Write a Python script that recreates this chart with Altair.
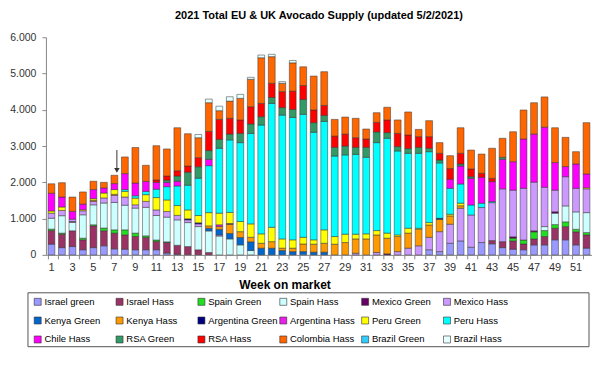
import altair as alt
import pandas as pd

weeks = list(range(1, 53))

series = ["Israel green", "Israel Hass", "Spain Green", "Spain Hass", "Mexico Green", "Mexico Hass",
          "Kenya Green", "Kenya Hass", "Argentina Green", "Argentina Hass", "Peru Green", "Peru Hass",
          "Chile Hass", "RSA Green", "RSA Hass", "Colombia Hass", "Brazil Green", "Brazil Hass"]
colors = ["#9999FF", "#993366", "#22DD22", "#CCFFFF", "#660066", "#CC99FF",
          "#0066CC", "#FF9900", "#000080", "#E81FE8", "#FFFF00", "#00FFFF",
          "#FF00FF", "#339966", "#FF0000", "#FF6600", "#33CCFF", "#E6FFFF"]
y_ticks = [0, 1000, 2000, 3000, 4000, 5000, 6000]

israel_green = [295, 200, 230, 140, 200, 250, 165, 155, 140, 140, 140, 50, 20, 0, 0, 0, 0, 0, 0, 0,
                0, 0, 0, 0, 0, 0, 0, 0, 0, 0, 0, 0, 0, 0, 0, 0, 140, 90, 320, 385,
                210, 340, 305, 200, 155, 140, 275, 275, 415, 415, 275, 185]
israel_hass = [375, 370, 435, 275, 600, 415, 435, 395, 370, 340, 230, 290, 245, 230, 140, 65, 0, 0, 0, 0,
               0, 0, 0, 0, 0, 0, 0, 0, 0, 0, 0, 0, 0, 0, 0, 0, 0, 0, 0, 0,
               0, 0, 90, 165, 230, 160, 165, 230, 320, 365, 360, 365]
spain_green = [40, 30, 0, 45, 30, 75, 90, 140, 90, 45, 40, 20, 0, 0, 0, 0, 0, 0, 0, 0,
               0, 0, 0, 0, 0, 0, 0, 0, 0, 0, 0, 0, 0, 0, 0, 0, 0, 0, 0, 0,
               0, 0, 0, 0, 75, 110, 195, 165, 100, 130, 70, 65]
spain_hass = [300, 480, 235, 645, 550, 690, 755, 680, 690, 785, 675, 680, 700, 660, 640, 595, 520, 440, 275, 120,
              0, 0, 0, 0, 0, 0, 0, 0, 0, 0, 0, 0, 0, 0, 0, 0, 0, 0, 0, 0,
              0, 0, 0, 0, 0, 0, 0, 110, 315, 440, 480, 550]
mexico_green = [0, 0, 20, 0, 0, 0, 0, 0, 0, 0, 0, 0, 0, 0, 0, 0, 0, 0, 0, 0,
                0, 0, 0, 0, 0, 0, 0, 0, 0, 0, 0, 0, 30, 0, 0, 0, 0, 0, 0, 0,
                0, 0, 0, 0, 40, 0, 30, 0, 40, 0, 0, 0]
mexico_hass = [140, 145, 65, 110, 95, 140, 195, 225, 90, 165, 155, 155, 125, 75, 75, 0, 30, 0, 0, 0,
               0, 0, 0, 0, 0, 0, 0, 0, 0, 45, 0, 65, 0, 90, 185, 250, 345, 550, 525, 900,
               890, 965, 1045, 1455, 1285, 1425, 1340, 1085, 595, 805, 650, 655]
kenya_green = [0, 0, 0, 0, 0, 0, 0, 0, 0, 0, 0, 0, 0, 0, 0, 75, 155, 150, 205, 240,
               185, 185, 120, 90, 90, 75, 75, 0, 0, 0, 0, 0, 0, 0, 0, 0, 0, 0, 0, 0,
               0, 0, 0, 0, 0, 0, 0, 0, 0, 0, 0, 0]
kenya_hass = [0, 0, 0, 0, 30, 0, 30, 0, 0, 0, 0, 0, 0, 0, 0, 65, 75, 255, 160, 125,
              135, 180, 65, 95, 210, 220, 245, 295, 340, 395, 440, 485, 430, 415, 415, 455, 340, 340, 230, 70,
              0, 0, 0, 0, 0, 0, 0, 0, 0, 0, 0, 0]
argentina_green = [0, 0, 0, 0, 0, 0, 0, 0, 0, 0, 0, 0, 0, 30, 30, 0, 0, 20, 0, 0,
                   0, 0, 0, 0, 0, 0, 0, 0, 0, 0, 0, 0, 0, 0, 0, 0, 0, 30, 0, 0,
                   0, 0, 0, 0, 0, 0, 0, 0, 0, 0, 0, 0]
argentina_hass = [0, 0, 0, 0, 0, 0, 0, 0, 0, 0, 0, 0, 0, 0, 0, 0, 50, 0, 0, 0,
                  0, 0, 0, 0, 0, 0, 0, 0, 0, 0, 0, 0, 0, 0, 0, 0, 0, 0, 0, 0,
                  0, 0, 0, 0, 0, 0, 0, 0, 0, 0, 0, 0]
peru_green = [60, 95, 0, 30, 45, 135, 130, 155, 185, 185, 340, 320, 270, 245, 200, 365, 320, 305, 280, 370,
              260, 395, 255, 230, 185, 120, 370, 210, 230, 130, 140, 120, 140, 45, 135, 30, 65, 0, 45, 70,
              0, 0, 0, 0, 0, 0, 0, 0, 0, 0, 0, 30]
peru_hass = [0, 0, 0, 0, 0, 0, 0, 50, 65, 90, 230, 365, 540, 680, 1030, 1295, 1790, 2000, 2175, 2495,
             3000, 3415, 3415, 3375, 3390, 2965, 2990, 2220, 2185, 2200, 2110, 2425, 2615, 2315, 2065, 2065, 1955, 1525, 715, 530,
             275, 120, 30, 0, 0, 0, 0, 0, 0, 0, 0, 0]
chile_hass = [490, 275, 215, 155, 250, 140, 165, 440, 350, 275, 190, 120, 130, 0, 0, 175, 0, 0, 0, 0,
              0, 0, 0, 0, 0, 0, 0, 0, 0, 0, 0, 0, 0, 0, 0, 0, 0, 0, 250, 495,
              735, 715, 550, 815, 785, 1360, 1325, 1655, 760, 280, 670, 380]
rsa_green = [0, 0, 0, 0, 0, 0, 0, 0, 0, 0, 0, 60, 145, 360, 315, 240, 245, 160, 255, 260,
             230, 165, 205, 220, 410, 265, 165, 240, 245, 195, 275, 295, 155, 120, 130, 165, 95, 80, 0, 55,
             45, 0, 0, 55, 0, 0, 0, 0, 0, 0, 0, 0]
rsa_hass = [0, 0, 0, 0, 0, 0, 0, 0, 0, 0, 65, 115, 145, 170, 250, 530, 550, 435, 370, 475,
            365, 390, 440, 505, 385, 350, 275, 310, 330, 265, 230, 265, 350, 365, 375, 295, 320, 185, 295, 295,
            215, 110, 90, 0, 0, 0, 0, 0, 0, 0, 0, 0]
colombia_hass = [260, 395, 395, 335, 230, 155, 230, 460, 980, 445, 945, 745, 1185, 890, 550, 790, 240, 475, 595, 755,
                 1260, 735, 230, 780, 515, 935, 930, 460, 470, 535, 275, 265, 350, 370, 635, 200, 440, 295, 355, 705,
                 520, 530, 830, 525, 825, 800, 865, 835, 960, 805, 340, 1415]
brazil_green = [0] * 52
brazil_hass = [0, 0, 0, 0, 0, 0, 0, 0, 0, 0, 0, 0, 0, 0, 90, 100, 125, 120, 110, 55,
               75, 65, 45, 65, 0, 0, 0, 0, 0, 0, 0, 0, 0, 0, 0, 0, 0, 0, 0, 0,
               0, 0, 0, 0, 0, 0, 0, 0, 0, 0, 0, 0]

all_values = [israel_green, israel_hass, spain_green, spain_hass, mexico_green, mexico_hass,
              kenya_green, kenya_hass, argentina_green, argentina_hass, peru_green, peru_hass,
              chile_hass, rsa_green, rsa_hass, colombia_hass, brazil_green, brazil_hass]

rows = []
for idx, (name, vals) in enumerate(zip(series, all_values)):
    for w, v in zip(weeks, vals):
        rows.append({"week": w, "series": name, "idx": idx, "value": v})
df = pd.DataFrame(rows)

FONT = "Liberation Sans"

x_axis = alt.Axis(title="Week on market", labelAngle=0, bandPosition=0,
                  labelExpr="datum.value % 2 == 1 ? datum.label : ''",
                  labelFontSize=11, labelColor="#333333", labelFont=FONT,
                  domainColor="#888888", tickColor="#888888", tickSize=4, labelPadding=3,
                  titleFont=FONT, titleFontSize=12, titleFontWeight="bold", titleColor="#000000",
                  titlePadding=7, titleX=239)
y_axis = alt.Axis(title=None, values=y_ticks, grid=False, format=",d",
                  labelExpr="replace(datum.label, ',', '.')",
                  labelOverlap=False, labelSeparation=0, labelBound=False,
                  labelFontSize=10.5, labelColor="#333333", labelFont=FONT,
                  domainColor="#888888", tickColor="#888888", tickSize=4, labelPadding=6)
x_scale = alt.Scale(paddingInner=0.35, paddingOuter=0.2)
y_scale = alt.Scale(domain=[0, 6000], nice=False)

bars = alt.Chart(df).transform_filter("datum.value > 0").mark_bar(
    stroke="#333333", strokeWidth=0.5
).encode(
    x=alt.X("week:O", scale=x_scale, axis=x_axis),
    y=alt.Y("value:Q", stack="zero", scale=y_scale, axis=y_axis),
    color=alt.Color("series:N", scale=alt.Scale(domain=series, range=colors),
                    legend=alt.Legend(title=None, orient="none", legendX=-13, legendY=260,
                                      direction="horizontal", columns=6, gridAlign="all",
                                      columnPadding=-1, rowPadding=8, labelOffset=2,
                                      symbolType="square", symbolSize=49,
                                      symbolStrokeColor="#333333", symbolStrokeWidth=0.6,
                                      labelFontSize=9.5, labelFont=FONT, labelColor="#000000",
                                      padding=0)),
    order=alt.Order("idx:Q", sort="ascending"),
)

arrow_df = pd.DataFrame({"week": [7], "y1": [2890], "y2": [2330], "tip": [2330]})
arrow_line = alt.Chart(arrow_df).mark_rule(color="#333333", strokeWidth=1, xOffset=2.5).encode(
    x=alt.X("week:O", scale=x_scale, axis=x_axis),
    y=alt.Y("y1:Q", scale=y_scale, axis=y_axis), y2="y2:Q")
arrow_head = alt.Chart(arrow_df).mark_point(shape="triangle-down", filled=True, color="#333333",
                                           size=30, opacity=1, xOffset=2.5).encode(
    x=alt.X("week:O", scale=x_scale, axis=x_axis),
    y=alt.Y("tip:Q", scale=y_scale, axis=y_axis))

box = alt.Chart(pd.DataFrame({"a": [0]})).mark_rect(fill=None, stroke="#555555", strokeWidth=1).encode(
    x=alt.value(-18), x2=alt.value(544), y=alt.value(256), y2=alt.value(310))

chart = alt.layer(bars, arrow_line, arrow_head, box).properties(
    width=547, height=218,
    title=alt.TitleParams("2021 Total EU & UK Avocado Supply (updated 5/2/2021)",
                          font=FONT, fontSize=11, fontWeight="bold", color="#000000", offset=11),
    autosize=alt.AutoSizeParams(type="none"),
    padding={"left": 38, "top": 29, "right": 0, "bottom": 100},
).configure_view(stroke=None).configure_axisY(labelOverlap=False)

chart.save("out.html", embed_options={"renderer": "svg", "actions": False})
